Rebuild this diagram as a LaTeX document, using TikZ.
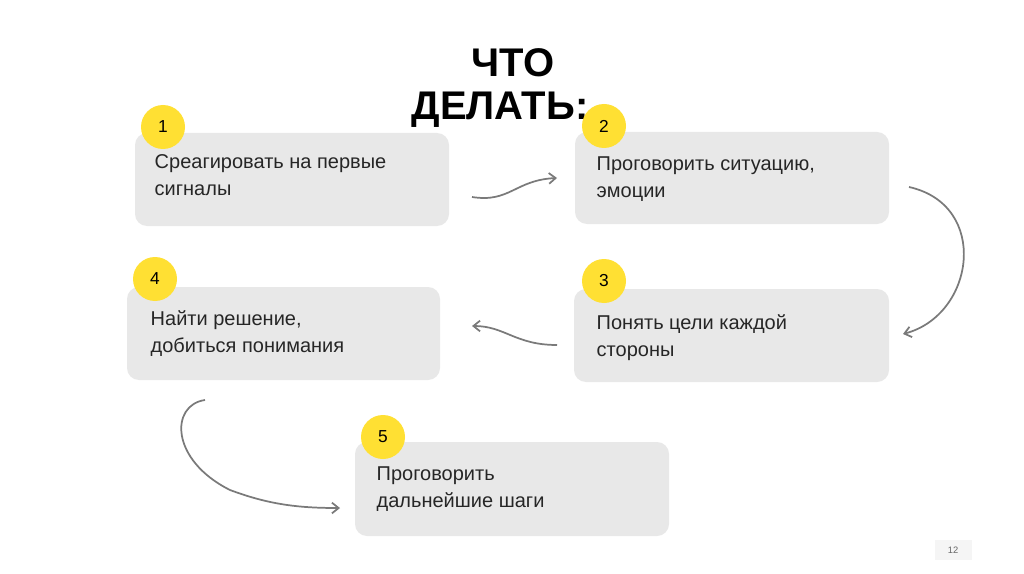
\documentclass[tikz,border=0pt]{standalone}
\usepackage{fontspec}
\setmainfont{Liberation Sans}
\usetikzlibrary{arrows.meta}
\definecolor{boxg}{HTML}{E8E8E8}
\definecolor{yel}{HTML}{FFE033}
\definecolor{arr}{HTML}{7A7A7A}
\begin{document}
\begin{tikzpicture}[x=0.75pt,y=-0.75pt,
  card/.style={fill=boxg,rounded corners=9pt,draw=none},
  num/.style={circle,fill=yel,minimum size=33pt,inner sep=0pt,font=\fontsize{13}{15}\selectfont},
  txt/.style={anchor=north west,align=left,font=\fontsize{15}{20}\selectfont,text=black!85},
  conn/.style={draw=arr,line width=1.3pt,-{Straight Barb[length=5pt,width=8pt]}}]
\useasboundingbox (0,0) rectangle (1024,574);
\fill[white] (0,0) rectangle (1024,574);
\node[font=\bfseries\fontsize{30}{36}\selectfont] (t1) at (513,63) {ЧТО};
\node[font=\bfseries\fontsize{30}{36}\selectfont] (t2) at (500,110) {ДЕЛАТЬ:};
\fill[card] (135,133) rectangle (449,226);
\fill[card] (575,132) rectangle (889,224);
\fill[card] (574,289) rectangle (889,382);
\fill[card] (127,287) rectangle (440,380);
\fill[card] (355,442) rectangle (669,536);
\node[num] (n1) at (163,127) {1};
\node[num] (n2) at (604,126) {2};
\node[num] (n3) at (604,281) {3};
\node[num] (n4) at (155,279) {4};
\node[num] (n5) at (383,437) {5};
\node[txt] (b1) at (150,150) {Среагировать на первые\\сигналы};
\node[txt] (b2) at (592,152) {Проговорить ситуацию,\\эмоции};
\node[txt] (b3) at (592,310) {Понять цели каждой\\стороны};
\node[txt] (b4) at (146,306) {Найти решение,\\добиться понимания};
\node[txt] (b5) at (372,462) {Проговорить\\дальнейшие шаги};
\coordinate (a1s) at (472,197); \coordinate (a1e) at (557,178);
\coordinate (a2s) at (909,187); \coordinate (a2e) at (903,334);
\coordinate (a3s) at (557,345); \coordinate (a3e) at (472,326);
\coordinate (a4s) at (205,400); \coordinate (a4e) at (340,508);
\draw[conn] (a1s) .. controls (510,203) and (515,180) .. (a1e);
\draw[conn] (a2s) .. controls (990,205) and (975,315) .. (a2e);
\draw[conn] (a3s) .. controls (515,345) and (505,326) .. (a3e);
\draw[conn] (a4s) .. controls (170,405) and (170,460) .. (230,490) .. controls (270,505) and (300,508) .. (a4e);
\fill[black!4] (935,540) rectangle (972,560);
\node[font=\fontsize{7}{8}\selectfont,text=black!60] (pg) at (953,550) {12};
\end{tikzpicture}
\end{document}
